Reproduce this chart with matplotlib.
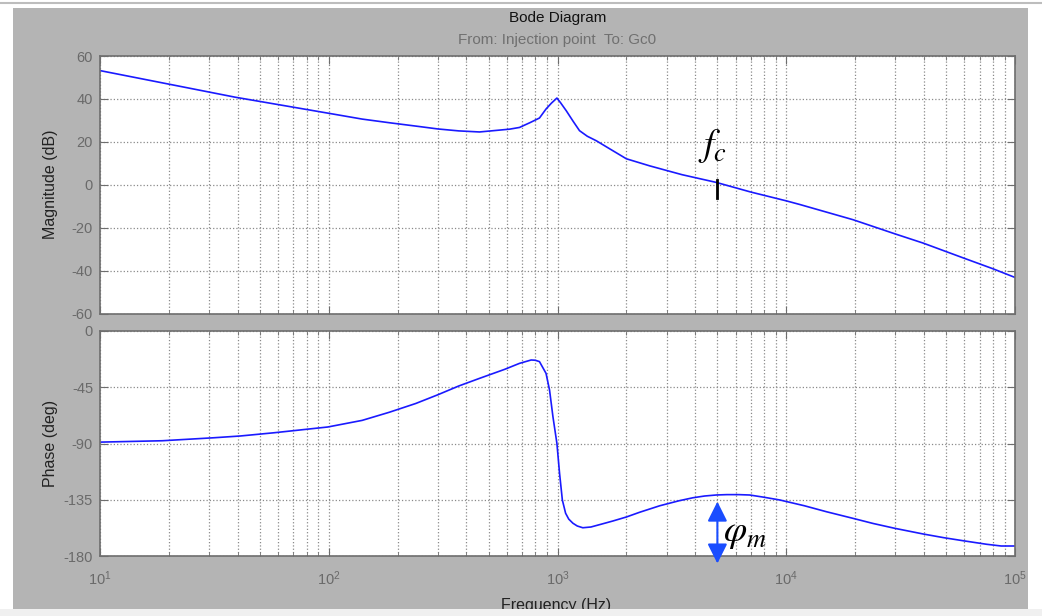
import numpy as np
import matplotlib
matplotlib.use("Agg")
import matplotlib.pyplot as plt
from matplotlib.patches import Rectangle
from matplotlib.ticker import LogLocator, NullFormatter

# Magnitude curve (Hz, dB)
freq_mag = [10, 39, 100, 140, 184, 250, 300, 370, 456, 617, 682, 760, 834, 891, 940,
            994, 1030, 1092, 1170, 1248, 1350, 1478, 1700, 2000, 2530, 3500, 4940,
            7000, 10000, 11460, 19600, 29900, 39700, 59400, 80300, 100000]
mag_db = [53.2, 40.8, 33.3, 30.6, 28.9, 27.1, 26.0, 25.1, 24.6, 25.9, 26.7, 29.0, 31.1,
          35.3, 38.0, 40.4, 38.3, 34.5, 29.6, 25.2, 22.6, 20.5, 16.6, 12.1, 8.8, 4.7, 1.1,
          -3.4, -7.5, -9.2, -16.3, -22.9, -27.2, -34.1, -39.2, -43.2]

# Phase curve (Hz, deg)
freq_ph = [10, 18.7, 31.5, 41, 57.7, 99, 140, 184, 240, 300, 370, 456, 587, 682, 767,
           800, 834, 891, 923, 955, 994, 1021, 1050, 1085, 1120, 1168, 1220, 1290, 1400,
           1550, 1746, 2000, 2287, 2800, 3400, 3910, 4400, 4940, 5500, 6200, 6920, 8000,
           9380, 12000, 15000, 19600, 24000, 29900, 39700, 49000, 59400, 75000, 87000,
           100000]
phase_deg = [-88.9, -87.8, -85.4, -84.0, -81.4, -76.8, -71.5, -65.0, -58.0, -51.0, -44.0,
             -37.9, -30.7, -25.9, -23.2, -23.4, -24.5, -33.9, -47.2, -68.5, -89.9, -113.9,
             -135.2, -145.8, -150.5, -153.8, -156.0, -157.4, -156.8, -154.6, -152.0,
             -148.8, -145.0, -139.8, -135.8, -133.4, -132.0, -131.2, -130.9, -130.9,
             -131.2, -133.0, -135.2, -139.8, -144.6, -149.9, -154.0, -157.9, -162.4,
             -165.4, -167.8, -170.6, -172.0, -172.0]

mag_ticks = [-60, -40, -20, 0, 20, 40, 60]
phase_ticks = [-180, -135, -90, -45, 0]

fc = 5000          # crossover frequency
pm_top = -136.5    # arrow top (deg)

W, H = 1042, 616
plt.rcParams['font.family'] = ['Liberation Sans', 'DejaVu Sans']
plt.rcParams['mathtext.default'] = 'regular'
plt.rcParams['axes.unicode_minus'] = False

fig = plt.figure(figsize=(W / 100, H / 100), dpi=100, facecolor='white')

# matlab-like grey figure panel
fig.patches.append(Rectangle((13 / W, 1 - 609 / H), (1028 - 13) / W, (609 - 8) / H,
                             transform=fig.transFigure, facecolor='#b4b4b4',
                             edgecolor='none', zorder=-5))
fig.add_artist(plt.Line2D([0, 1], [1 - 3 / H, 1 - 3 / H], color='#bdbdbd', lw=1.5))

left, right = 100 / W, 1015 / W
ax1 = fig.add_axes([left, 1 - 313.5 / H, right - left, (313.5 - 56) / H])
ax2 = fig.add_axes([left, 1 - 556 / H, right - left, (556 - 331) / H])

spine_col = '#6e6e6e'
label_col = '#6a6a6a'

for ax in (ax1, ax2):
    ax.set_facecolor('white')
    ax.set_xscale('log')
    ax.set_xlim(10, 1e5)
    ax.xaxis.set_major_locator(LogLocator(base=10, numticks=10))
    ax.xaxis.set_minor_locator(LogLocator(base=10, subs=np.arange(2, 10), numticks=20))
    ax.xaxis.set_minor_formatter(NullFormatter())
    ax.grid(True, which='major', ls=':', color='#8a8a8a', lw=0.9)
    ax.grid(True, which='minor', axis='x', ls=':', color='#8a8a8a', lw=0.9)
    ax.tick_params(which='both', direction='in', top=True, right=True,
                   colors=spine_col, labelcolor=label_col, labelsize=10.5)
    ax.tick_params(which='major', length=6)
    ax.tick_params(which='minor', length=3)
    ax.tick_params(axis='y', pad=5)
    ax.tick_params(axis='x', pad=10)
    for sp in ax.spines.values():
        sp.set_color(spine_col)
        sp.set_linewidth(1.2)

ax1.plot(freq_mag, mag_db, color='#1a1aff', lw=1.2)
ax1.set_ylim(-60, 60)
ax1.set_yticks(mag_ticks)
ax1.tick_params(axis='x', labelbottom=False)

ax2.plot(freq_ph, phase_deg, color='#1a1aff', lw=1.2)
ax2.set_ylim(-180, 0)
ax2.set_yticks(phase_ticks)

# annotations
ax1.plot([fc, fc], [2, -6], color='black', lw=2)
ax1.text(fc * 0.95, 14, r'$\mathit{f}_\mathit{c}$', fontsize=27, math_fontfamily='stix',
         ha='center', va='baseline')

ax2.annotate('', xy=(fc, -186), xytext=(fc, pm_top), annotation_clip=False,
             arrowprops=dict(arrowstyle='<|-|>', color='#1a4dff', lw=1.5,
                             mutation_scale=30, shrinkA=0, shrinkB=0))
ax2.text(fc * 1.06, -168, r'$\mathit{\varphi}_\mathit{m}$', fontsize=27,
         math_fontfamily='stix', ha='left', va='baseline')

cx = (100 + 1015) / 2 / W
fig.text(cx, 1 - 18 / H, 'Bode Diagram', ha='center', va='center', fontsize=11,
         color='#111111')
fig.text(cx, 1 - 40 / H, 'From: Injection point  To: Gc0', ha='center', va='center',
         fontsize=11, color='#707070')
fig.text(51 / W, 1 - 184 / H, 'Magnitude (dB)', rotation=90, ha='center', va='center',
         fontsize=11.5, color='#222222')
fig.text(51 / W, 1 - 443 / H, 'Phase (deg)', rotation=90, ha='center', va='center',
         fontsize=11.5, color='#222222')
fig.text(556 / W, 1 - 598 / H, 'Frequency (Hz)', ha='center', va='top', fontsize=11.5,
         color='#222222')

# cut-off strip at the bottom, as in the screenshot
fig.patches.append(Rectangle((0, 0), 1, 7 / H, transform=fig.transFigure,
                             facecolor='#f0f0f0', edgecolor='none', zorder=10))

fig.savefig('out.png', dpi=100)
